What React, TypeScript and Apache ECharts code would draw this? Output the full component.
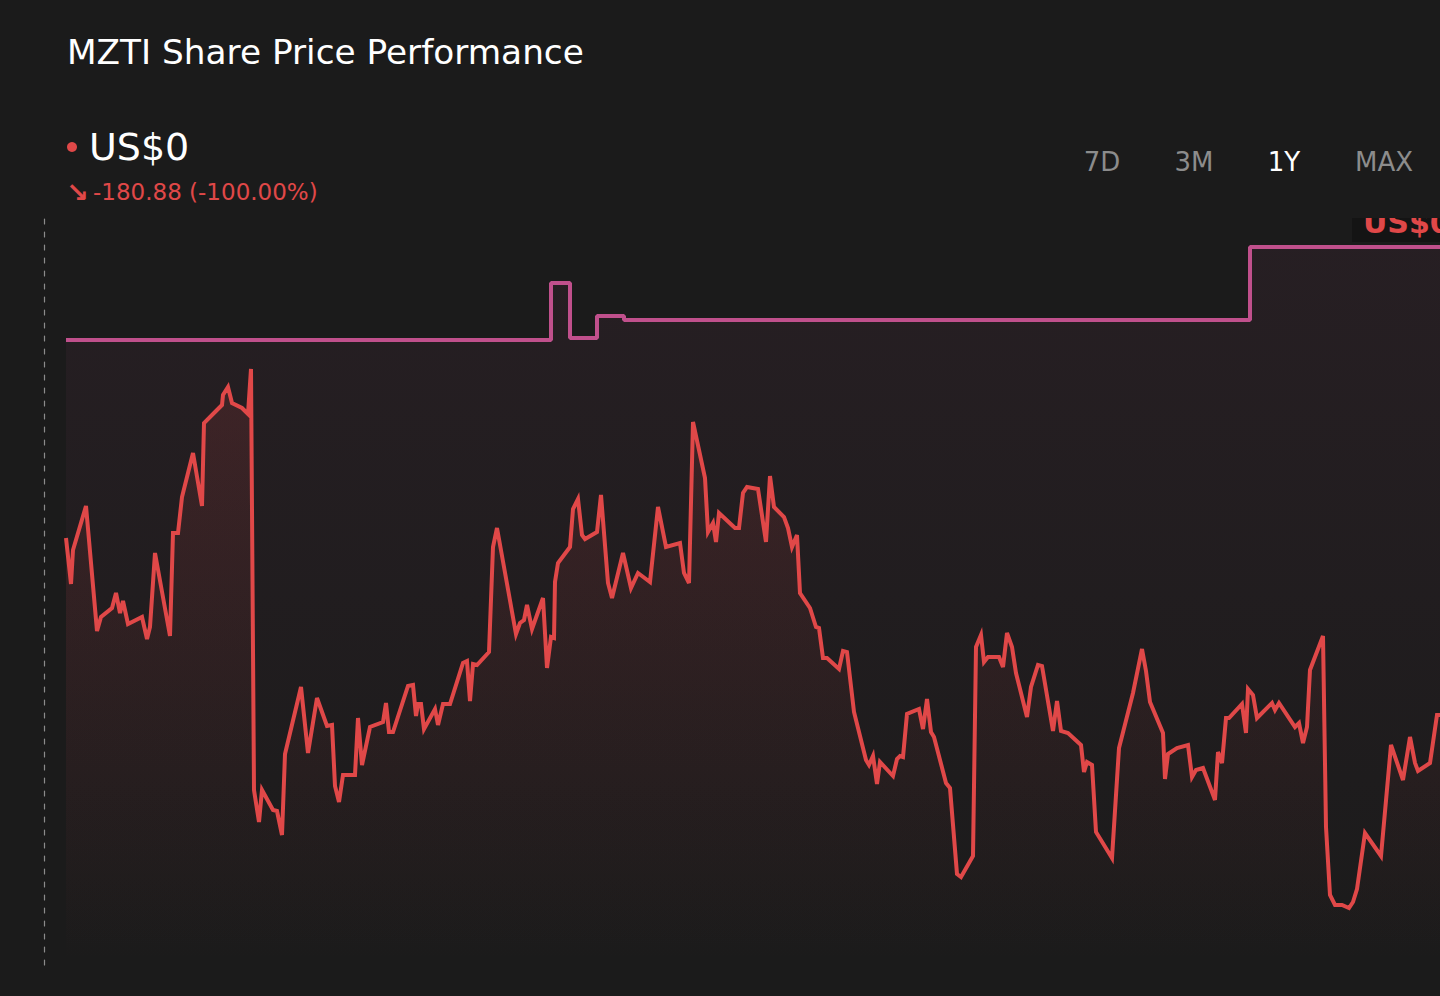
import React, { useEffect, useRef } from "react";
import * as echarts from "echarts";

// Day offsets within the 1Y window and share price readings
const priceDays = [
  0, 1.25, 1.75, 5, 7.75, 8.75, 11.5, 12.5, 13.5, 14.25, 15.5, 19, 20.25, 21, 22.25, 26, 26.75, 28, 29, 31.75,
  34, 34.5, 37.75, 39, 39.25, 40.5, 41.5, 44, 45.5, 46.25, 47, 48.25, 49, 51.75, 52.75, 54, 54.75, 58.75, 60.5, 62.75,
  65.25, 66.5, 67.25, 68.25, 69.25, 72.25, 73, 74, 76, 79.25, 80, 80.75, 81.75, 85.5, 86.75, 87.5, 88, 88.75, 89.5, 92.25,
  93, 94.25, 96, 99.25, 100.25, 101, 101.75, 102.75, 105.75, 106.75, 107.75, 112.5, 113.5, 114.5, 115.25, 116.5, 119.25, 120.25, 121.25, 122,
  122.25, 123, 126, 126.75, 128, 129, 129.75, 132.75, 133.75, 135.5, 136.5, 139.25, 141.25, 143, 146, 148, 150, 153.5, 154.5, 155.75,
  156.75, 159.75, 160.5, 161.75, 162.5, 163.25, 167.25, 168.25, 169.25, 170.25, 173, 175, 176, 177, 179.5, 180.5, 181.5, 182.75, 183.5, 186,
  187.5, 188.25, 189.25, 190.25, 193.25, 194.25, 195.25, 197, 200, 200.75, 201.75, 202.75, 203.5, 206.75, 207.75, 208.5, 209.25, 210.25, 213.25, 214.25,
  215.25, 216.25, 217, 220, 221, 222.75, 223.75, 226.75, 227.5, 228.75, 229.5, 230.5, 233.25, 234.25, 235.25, 236.5, 237.5, 240.25, 241.25, 243,
  244, 246.75, 247.75, 248.75, 250.5, 253.75, 254.5, 255.25, 256.5, 257.5, 261.5, 263.25, 266.75, 269, 270, 271, 274.25, 274.75, 275.5, 277.75,
  280.5, 281.5, 282.5, 284.25, 287.25, 288, 289, 290, 290.75, 294, 295, 295.5, 296.75, 297.75, 301.5, 302.25, 303.25, 307.25, 308.25, 309.25,
  310.25, 311, 314.25, 315, 316, 317.25, 319, 320.75, 321.75, 322.75, 324.75, 328.75, 331.25, 334.25, 336, 337.25, 338, 341, 342.75, 343.5,
];
const priceValues = [
  213.5, 190.5, 207.5, 229.5, 167, 174, 178.5, 186, 176, 182, 170.5, 174, 163, 169, 206, 164.5, 216, 216, 234, 256,
  229.5, 271, 277.5, 280, 285, 289, 281, 278.5, 275.5, 298, 87.5, 71.5, 87.5, 77.5, 77, 65, 105.5, 139, 106, 133.5,
  119.5, 120, 89.5, 81.5, 95, 95, 123.5, 100, 119, 121.5, 131, 116.5, 116.5, 139.5, 140, 124.5, 130.5, 130.5, 118, 128,
  120, 130.5, 130.5, 151, 152, 132, 150.5, 150, 156.5, 209, 218.5, 165.5, 171, 172.5, 180, 168, 183.5, 148.5, 164, 163.5,
  191.5, 201, 209, 228, 233, 215, 213, 216.5, 235, 191, 183.5, 206, 188.5, 196, 191.5, 229, 209, 211, 196, 191,
  271.5, 243.5, 216.5, 221, 211.5, 226, 218.5, 218.5, 236, 239, 238, 211.5, 244.5, 229, 224, 218.5, 209, 215, 186, 178.5,
  169, 168.5, 153.5, 153.5, 148, 157, 156.5, 126.5, 102.5, 100, 104.5, 90.5, 101.5, 94.5, 103, 104.5, 104, 125.5, 128, 118,
  133, 116.5, 114, 91, 88.5, 45.5, 44, 54.5, 159, 165, 151.5, 154, 154, 149, 166, 159, 146, 124, 139, 150,
  149.5, 117, 132, 117, 116, 110, 96.5, 101.5, 100, 66.5, 53.5, 108.5, 136, 158, 147, 131.5, 116, 93, 105.5, 108.5,
  110, 94, 97.5, 98.5, 82.5, 106.5, 101, 123.5, 123.5, 130.5, 116, 138, 135, 123.5, 131, 127.5, 131, 119, 121, 111,
  119, 147.5, 164.5, 69, 35, 30, 30, 28.5, 31.5, 38, 66, 54.5, 110, 92.5, 114, 101, 97, 101, 125, 125,
];

// Comparison step line (day offsets where the level changes, and the levels)
const stepDays = [0, 121.25, 126, 132.75, 139.5, 296, 343.5];
const stepValues = [312.5, 341, 313.5, 324.5, 322.5, 359, 359];

const titleText = "MZTI Share Price Performance";
const priceText = "US$0";
const changeText = "-180.88 (-100.00%)";
const rangeButtons = ["7D", "3M", "1Y", "MAX"];
const activeButton = "1Y";
const endLabel = "US$0";

const BG = "#1b1b1b";
const RED = "#e04848";
const PINK = "#c0508c";
const FONT = "DejaVu Sans";

export default function App() {
  const ref = useRef<HTMLDivElement>(null);

  useEffect(() => {
    if (!ref.current) return;
    const chart = echarts.init(ref.current, null, { renderer: "svg" });

    const priceData = priceDays.map((d, i) => [d, priceValues[i]]);
    const stepData = stepDays.map((d, i) => [d, stepValues[i]]);
    const buttonX = [1102, 1194, 1284, 1384];

    chart.setOption({
      animation: false,
      backgroundColor: BG,
      textStyle: { fontFamily: FONT },
      grid: { left: 66, right: 0, top: 215, bottom: 31, containLabel: false },
      xAxis: { type: "value", min: 0, max: 343.5, show: false },
      yAxis: {
        type: "value",
        min: 0,
        max: 375,
        position: "left",
        offset: 22,
        axisLine: { show: true, onZero: false, lineStyle: { color: "#8c8c8c", width: 1.2, type: [5, 8] } },
        axisTick: { show: false },
        axisLabel: { show: false },
        splitLine: { show: false },
      },
      series: [
        {
          type: "line",
          data: stepData,
          step: "end",
          showSymbol: false,
          lineStyle: { color: PINK, width: 4 },
          itemStyle: { color: PINK },
          areaStyle: {
            color: new echarts.graphic.LinearGradient(0, 0, 0, 1, [
              { offset: 0, color: "rgba(192,80,140,0.10)" },
              { offset: 1, color: "rgba(192,80,140,0)" },
            ]),
          },
          z: 2,
        },
        {
          type: "line",
          data: priceData,
          showSymbol: false,
          lineStyle: { color: RED, width: 4, join: "miter" },
          itemStyle: { color: RED },
          areaStyle: {
            color: new echarts.graphic.LinearGradient(0, 0, 0, 1, [
              { offset: 0, color: "rgba(224,72,72,0.20)" },
              { offset: 1, color: "rgba(224,72,72,0)" },
            ]),
          },
          z: 3,
        },
      ],
      graphic: [
        {
          type: "text",
          x: 67,
          y: 52,
          style: { text: titleText, fill: "#ffffff", fontSize: 34.3, fontFamily: FONT, verticalAlign: "middle" },
        },
        { type: "circle", shape: { cx: 72, cy: 147, r: 5 }, style: { fill: RED } },
        {
          type: "text",
          x: 89,
          y: 147,
          style: { text: priceText, fill: "#ffffff", fontSize: 38, fontFamily: FONT, verticalAlign: "middle" },
        },
        {
          type: "text",
          x: 66,
          y: 192,
          style: { text: "↘", fill: RED, fontSize: 27, fontWeight: "bold", fontFamily: FONT, verticalAlign: "middle" },
        },
        {
          type: "text",
          x: 93,
          y: 192,
          style: { text: changeText, fill: RED, fontSize: 23, fontFamily: FONT, verticalAlign: "middle" },
        },
        ...rangeButtons.map((b, i) => ({
          type: "text",
          x: buttonX[i],
          y: 162,
          style: {
            text: b,
            fill: b === activeButton ? "#ffffff" : "#8c8c8c",
            fontSize: 26,
            fontFamily: FONT,
            align: "center",
            verticalAlign: "middle",
          },
        })),
        {
          type: "rect",
          z: 50,
          shape: { x: 1352, y: 200, width: 100, height: 42 },
          style: { fill: "#141414" },
        },
        {
          type: "text",
          z: 51,
          x: 1363,
          y: 222,
          style: { text: endLabel, fill: RED, fontSize: 30, fontWeight: "bold", fontFamily: FONT, verticalAlign: "middle" },
        },
        {
          type: "rect",
          z: 60,
          shape: { x: 1330, y: 180, width: 120, height: 38 },
          style: { fill: BG },
        },
      ],
    });

    return () => chart.dispose();
  }, []);

  return (
    <div
      ref={ref}
      style={{ position: "fixed", left: 0, top: 0, width: 1440, height: 996, background: BG }}
    />
  );
}
